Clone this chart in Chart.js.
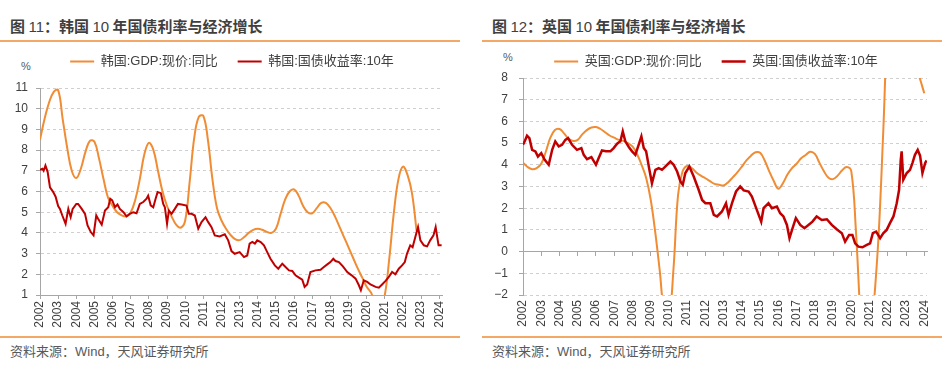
<!DOCTYPE html>
<html>
<head>
<meta charset="utf-8">
<script src="https://cdn.jsdelivr.net/npm/chart.js@4.4.0/dist/chart.umd.min.js"></script>
<style>
body{margin:0;width:951px;height:375px;background:#fff;position:relative;overflow:hidden}
.title{position:absolute;top:15px;font:bold 15px "Noto Sans CJK SC";color:#3f3f3f;line-height:22px;white-space:nowrap}
.title .n{font-family:"Liberation Sans";font-weight:normal}
.rule{position:absolute;height:2px;background:#f3a865}
.src{position:absolute;top:343px;font:13px "Liberation Sans","Noto Sans CJK SC";color:#595959;line-height:18px;white-space:nowrap}
.unit{position:absolute;font:11px "Liberation Sans";color:#595959;line-height:14px}
canvas{position:absolute}
</style>
</head>
<body>
<div class="title" style="left:10px">图 <span class="n">11</span>：韩国 <span class="n">10</span> 年国债利率与经济增长</div>
<div class="title" style="left:492px">图 <span class="n">12</span>：英国 <span class="n">10</span> 年国债利率与经济增长</div>
<div class="rule" style="left:0;top:40px;width:460px"></div>
<div class="rule" style="left:482px;top:40px;width:460px"></div>
<div class="rule" style="left:0;top:336px;width:460px"></div>
<div class="rule" style="left:482px;top:336px;width:460px"></div>
<div class="src" style="left:10px">资料来源：Wind，天风证券研究所</div>
<div class="src" style="left:492px">资料来源：Wind，天风证券研究所</div>
<div class="unit" style="left:21px;top:59px">%</div>
<div class="unit" style="left:503px;top:50px">%</div>
<canvas id="kr" width="460" height="300" style="left:0;top:35px"></canvas>
<canvas id="uk" width="476" height="300" style="left:475px;top:35px"></canvas>
<script>
// 韩国:GDP:现价:同比, quarterly from 2002 (one value per quarter)
const krGdp = [8.5, 9.5, 10.3, 10.8, 10.9, 9.5, 8.1, 7.0, 6.65, 7.1, 7.9, 8.45,
  8.4, 7.6, 6.6, 5.7, 5.3, 5.0, 4.85, 4.8, 5.0, 5.6, 6.6, 7.8,
  8.35, 8.0, 7.0, 6.0, 5.3, 4.8, 4.4, 4.25, 4.6, 6.5, 8.6, 9.6,
  9.65, 8.5, 6.6, 5.2, 4.6, 4.2, 3.9, 3.7, 3.65, 3.8, 4.0, 4.15,
  4.2, 4.15, 4.05, 4.0, 4.2, 4.9, 5.6, 6.0, 6.1, 5.8, 5.3, 5.0,
  4.95, 5.2, 5.45, 5.45, 5.2, 4.8, 4.3, 3.8, 3.3, 2.8, 2.3, 1.85,
  1.4, 1.1, 0.5, 0.3, 1.0, 2.8, 5.0, 6.6, 7.2, 6.8, 5.9, 4.1];

// 韩国:国债收益率:10年
const krYieldT = [2002.0, 2002.13, 2002.2, 2002.3, 2002.42, 2002.55, 2002.73, 2002.86, 2003.0, 2003.1,
  2003.23, 2003.41, 2003.56, 2003.69, 2003.8, 2004.0, 2004.1, 2004.3, 2004.48, 2004.62,
  2004.8, 2004.95, 2005.1, 2005.2, 2005.4, 2005.58, 2005.76, 2005.87, 2005.98, 2006.13,
  2006.27, 2006.4, 2006.6, 2006.77, 2006.95, 2007.14, 2007.32, 2007.5, 2007.69, 2007.87,
  2007.96, 2008.1, 2008.24, 2008.37, 2008.48, 2008.66, 2008.79, 2008.88, 2009.0, 2009.1,
  2009.25, 2009.43, 2009.6, 2009.8, 2010.07, 2010.2, 2010.35, 2010.53, 2010.72, 2010.9,
  2011.12, 2011.27, 2011.45, 2011.63, 2011.9, 2012.18, 2012.37, 2012.55, 2012.73, 2013.0,
  2013.24, 2013.42, 2013.55, 2013.7, 2013.84, 2013.97, 2014.16, 2014.34, 2014.52, 2014.7,
  2014.94, 2015.13, 2015.35, 2015.53, 2015.72, 2015.9, 2016.08, 2016.27, 2016.45, 2016.58,
  2016.72, 2016.9, 2017.18, 2017.46, 2017.64, 2017.83, 2018.0, 2018.16, 2018.28, 2018.47,
  2018.69, 2018.93, 2019.17, 2019.39, 2019.57, 2019.68, 2019.84, 2020.03, 2020.21, 2020.49,
  2020.67, 2020.85, 2021.04, 2021.22, 2021.4, 2021.58, 2021.77, 2021.95, 2022.1, 2022.22,
  2022.4, 2022.53, 2022.68, 2022.83, 2022.96, 2023.15, 2023.33, 2023.5, 2023.68, 2023.8,
  2023.96, 2024.13];
const krYieldV = [7.05, 7.1, 7.0, 7.25, 6.95, 6.2, 5.97, 5.75, 5.3, 5.16,
  4.84, 4.44, 5.16, 4.76, 5.16, 5.4, 5.4, 5.16, 4.92, 4.36,
  4.04, 3.88, 4.84, 4.68, 4.4, 5.08, 5.24, 5.65, 5.57, 5.24,
  5.37, 5.16, 5.0, 4.8, 4.92, 5.0, 4.95, 5.4, 5.49, 5.65,
  5.8, 5.33, 5.24, 5.65, 5.97, 5.92, 5.4, 5.24, 4.44, 5.08,
  4.92, 5.16, 5.4, 5.37, 5.32, 4.92, 4.92, 4.84, 4.2, 4.52,
  4.76, 4.52, 4.28, 3.88, 3.83, 3.93, 3.64, 3.12, 2.99, 3.07,
  2.83, 2.91, 3.48, 3.56, 3.48, 3.64, 3.56, 3.4, 3.07, 2.75,
  2.43, 2.27, 2.51, 2.35, 2.19, 2.16, 1.95, 1.84, 1.74, 1.39,
  1.51, 2.11, 2.19, 2.22, 2.35, 2.48, 2.59, 2.75, 2.64, 2.59,
  2.38, 2.11, 1.95, 1.79, 1.47, 1.23, 1.71, 1.63, 1.51, 1.39,
  1.35, 1.51, 1.68, 1.87, 2.11, 2.0, 2.27, 2.43, 2.59, 2.99,
  3.4, 3.31, 3.8, 4.28, 3.64, 3.4, 3.35, 3.64, 3.88, 4.28,
  3.4, 3.4];

// 英国:GDP:现价:同比, quarterly from 2002
const ukGdp = [4.1, 3.9, 3.8, 3.85, 4.05, 4.6, 5.25, 5.6, 5.65, 5.45, 5.2, 5.1,
  5.15, 5.4, 5.6, 5.72, 5.74, 5.65, 5.5, 5.35, 5.25, 5.15, 5.1, 5.0,
  4.85, 4.5, 4.0, 3.4, 2.4, 0.9, -0.9, -2.8, -3.0, -0.8, 2.6, 3.7,
  3.95, 3.85, 3.65, 3.5, 3.38, 3.25, 3.12, 3.08, 3.05, 3.2, 3.42, 3.65,
  3.92, 4.2, 4.42, 4.58, 4.55, 4.2, 3.7, 3.25, 2.9, 3.15, 3.55, 3.85,
  4.05, 4.3, 4.45, 4.6, 4.5, 4.1, 3.7, 3.4, 3.34, 3.5, 3.75, 3.9,
  3.7, 1.0, -3.0, -6.0, -5.0, -2.3, 0.8, 5.5, 10.5, 12.0, 11.0, 10.0,
  9.5, 9.0, 8.6, 8.0, 7.3];

// 英国:国债收益率:10年
const ukYieldT = [2002.0, 2002.1, 2002.22, 2002.35, 2002.5, 2002.68, 2002.82, 2003.0, 2003.19, 2003.41,
  2003.6, 2003.77, 2003.96, 2004.14, 2004.32, 2004.47, 2004.69, 2004.96, 2005.2, 2005.33,
  2005.51, 2005.75, 2006.0, 2006.15, 2006.33, 2006.55, 2006.79, 2006.97, 2007.16, 2007.34,
  2007.47, 2007.61, 2007.8, 2007.98, 2008.16, 2008.34, 2008.49, 2008.62, 2008.75, 2008.93,
  2009.07, 2009.26, 2009.44, 2009.62, 2009.8, 2010.08, 2010.26, 2010.45, 2010.63, 2010.76,
  2010.9, 2011.12, 2011.36, 2011.63, 2011.82, 2012.0, 2012.27, 2012.46, 2012.64, 2012.91,
  2013.13, 2013.27, 2013.46, 2013.68, 2013.91, 2014.1, 2014.37, 2014.55, 2014.82, 2015.06,
  2015.19, 2015.46, 2015.65, 2015.92, 2016.1, 2016.28, 2016.47, 2016.61, 2016.78, 2016.96,
  2017.2, 2017.43, 2017.65, 2017.87, 2018.1, 2018.38, 2018.66, 2018.93, 2019.2, 2019.48,
  2019.66, 2019.88, 2020.06, 2020.21, 2020.39, 2020.61, 2020.85, 2021.03, 2021.18, 2021.36,
  2021.58, 2021.76, 2021.94, 2022.12, 2022.31, 2022.49, 2022.62, 2022.71, 2022.76, 2022.85,
  2023.04, 2023.22, 2023.35, 2023.49, 2023.64, 2023.77, 2023.9, 2024.05, 2024.13];
const ukYieldV = [4.92, 5.1, 5.34, 5.23, 4.69, 4.62, 4.38, 4.54, 4.23, 4.0,
  4.69, 5.08, 4.85, 4.92, 5.15, 5.23, 4.92, 4.69, 4.77, 4.46,
  4.26, 4.35, 4.0, 4.31, 4.66, 4.62, 4.62, 4.77, 4.97, 5.08,
  5.54, 5.08, 4.82, 4.62, 4.46, 4.92, 5.31, 4.77, 4.62, 3.77,
  3.15, 3.77, 3.85, 3.77, 3.92, 4.15, 4.0, 3.69, 3.23, 3.08,
  3.62, 3.92, 3.46, 2.85, 2.38, 2.23, 2.23, 1.69, 1.62, 1.85,
  2.23, 1.69, 2.23, 2.77, 3.0, 2.82, 2.77, 2.54, 1.92, 1.38,
  2.0, 2.23, 2.0, 2.08, 1.77, 1.62, 1.23, 0.62, 1.08, 1.54,
  1.23, 1.08, 1.23, 1.38, 1.62, 1.46, 1.49, 1.23, 1.03, 0.85,
  0.46, 0.77, 0.77, 0.38, 0.23, 0.2, 0.31, 0.38, 0.85, 0.92,
  0.62, 0.85, 1.0, 1.31, 1.62, 2.23, 2.85, 4.23, 4.62, 3.31,
  3.62, 3.77, 4.08, 4.46, 4.69, 4.42, 3.62, 4.08, 4.2];

const ORANGE = '#f08c34';
const RED = '#c00000';
const AXIS = '#a6a6a6';
const GRID = '#cfcfcf';
const TXT = '#404040';
const FONT = "'Liberation Sans', 'Noto Sans CJK SC', sans-serif";
const X_MIN = 2002, X_MAX = 2024.15;

const quarterly = vals => vals.map((v, i) => ({x: 2002 + i * 0.25, y: v}));
const pairs = (t, v) => t.map((x, i) => ({x: x, y: v[i]}));
const minus = v => String(v).replace('-', '\u2212');

// legend box: fixed height so the plot area lines up, and nudged sideways
const legendBox = {
  id: 'legendBox',
  beforeInit(chart, args, opts) {
    const fit = chart.legend.fit;
    chart.legend.fit = function () {
      fit.call(this);
      this.height = opts.h;
    };
  },
  afterLayout(chart, args, opts) {
    chart.legend.left += opts.dx;
    chart.legend.right += opts.dx;
  }
};

function yearTicks(extra) {
  return Object.assign({
    stepSize: 1, includeBounds: false, autoSkip: false, maxTicksLimit: 40,
    maxRotation: 90, minRotation: 90, color: TXT,
    font: {size: 12, family: FONT},
    callback: v => String(Math.round(v))
  }, extra);
}

function makeChart(id, name, gdp, yT, yV, opt) {
  const scales = {
    y: {
      min: opt.yMin, max: opt.yMax,
      afterFit: s => { s.width = opt.yW; },
      border: {display: true, color: AXIS, dash: [3, 3]},
      grid: {color: GRID, tickColor: AXIS, tickLength: 4, tickBorderDash: []},
      ticks: {stepSize: 1, padding: opt.yPad, color: TXT, font: {size: 12, family: FONT}, callback: minus}
    }
  };
  if (opt.zeroAxis) {
    scales.x = {
      type: 'linear', min: X_MIN, max: X_MAX, position: {y: 0},
      border: {display: true, color: AXIS},
      grid: {drawOnChartArea: false, tickLength: 4, color: AXIS, tickBorderDash: []},
      ticks: yearTicks({display: false})
    };
    scales.x2 = {
      type: 'linear', axis: 'x', position: 'bottom', min: X_MIN, max: X_MAX,
      afterFit: s => { s.height = 40; },
      border: {display: false},
      grid: {display: false, drawTicks: false},
      ticks: yearTicks({padding: 5})
    };
  } else {
    scales.x = {
      type: 'linear', min: X_MIN, max: X_MAX,
      afterFit: s => { s.height = 40; },
      border: {display: true, color: AXIS},
      grid: {drawOnChartArea: false, tickLength: 4, color: AXIS, tickBorderDash: []},
      ticks: yearTicks({padding: 2})
    };
  }

  return new Chart(document.getElementById(id), {
    type: 'line',
    data: {
      datasets: [
        {
          label: name + ':GDP:现价:同比',
          data: quarterly(gdp),
          borderColor: ORANGE, backgroundColor: ORANGE,
          borderWidth: 2, pointRadius: 0, tension: 0.4, order: 1
        },
        {
          label: name + ':国债收益率:10年',
          data: pairs(yT, yV),
          borderColor: RED, backgroundColor: RED,
          borderWidth: opt.redWidth, pointRadius: 0, tension: 0, order: 0
        }
      ]
    },
    options: {
      responsive: false,
      animation: false,
      devicePixelRatio: 1,
      layout: {padding: {left: 0, right: opt.padR, top: 0, bottom: 0}},
      scales: scales,
      plugins: {
        legendBox: {h: opt.legendH, dx: opt.legendDx},
        tooltip: {enabled: false},
        legend: {
          labels: {
            usePointStyle: true, pointStyle: 'line', pointStyleWidth: 24,
            padding: 20, color: TXT, font: {size: 13, family: FONT},
            sort: (a, b) => a.datasetIndex - b.datasetIndex
          }
        }
      }
    },
    plugins: [legendBox]
  });
}

makeChart('kr', '韩国', krGdp, krYieldT, krYieldV,
  {yMin: 1, yMax: 11, yW: 40, yPad: 8, padR: 18, legendH: 53, legendDx: 11, redWidth: 2, zeroAxis: false});
makeChart('uk', '英国', ukGdp, ukYieldT, ukYieldV,
  {yMin: -2, yMax: 8, yW: 48, yPad: 11, padR: 24, legendH: 43, legendDx: 15, redWidth: 2.5, zeroAxis: true});
</script>
</body>
</html>
